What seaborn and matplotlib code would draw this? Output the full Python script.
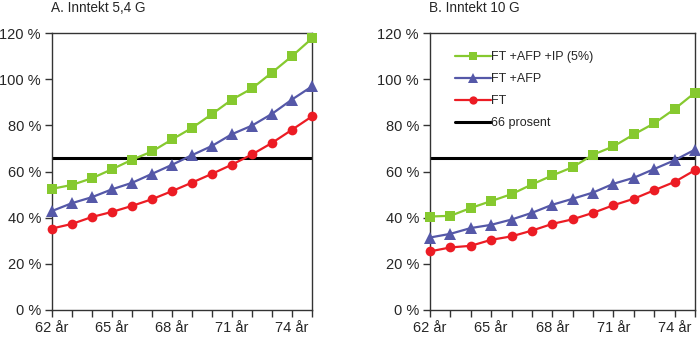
import numpy as np
import pandas as pd
import seaborn as sns
import matplotlib.pyplot as plt

ages = list(range(62, 76))
tick_ages = [62, 65, 68, 71, 74]
tick_labels = ["62 år", "65 år", "68 år", "71 år", "74 år"]
y_ticks = [0, 20, 40, 60, 80, 100, 120]
y_labels = ["0 %", "20 %", "40 %", "60 %", "80 %", "100 %", "120 %"]

series_names = ["FT +AFP +IP (5%)", "FT +AFP", "FT"]
threshold_name = "66 prosent"
threshold = 66

# Panel A: income 5.4 G
a_ft_afp_ip = [52.5, 54.2, 57.1, 61.0, 65.1, 68.7, 73.9, 78.9, 84.9, 91.2, 96.0, 102.9, 110.0, 117.7]
a_ft_afp = [42.9, 46.3, 48.9, 52.3, 55.1, 59.0, 62.9, 67.1, 71.1, 76.2, 79.9, 85.0, 91.2, 96.9]
a_ft = [35.3, 37.3, 40.3, 42.5, 45.1, 48.0, 51.5, 55.2, 59.0, 63.0, 67.4, 72.4, 78.1, 83.9]

# Panel B: income 10 G
b_ft_afp_ip = [40.5, 40.8, 44.2, 47.2, 50.2, 54.4, 58.3, 61.9, 67.3, 70.9, 76.1, 80.9, 87.1, 94.2]
b_ft_afp = [31.4, 33.0, 35.5, 36.9, 39.2, 42.1, 45.6, 48.2, 50.9, 54.7, 57.3, 61.1, 64.9, 69.5]
b_ft = [25.4, 27.1, 27.8, 30.4, 31.9, 34.4, 37.3, 39.3, 42.1, 45.4, 48.2, 51.9, 55.5, 60.6]

titles = ["A. Inntekt 5,4 G", "B. Inntekt 10 G"]

colors = {"FT +AFP +IP (5%)": "#86c92f", "FT +AFP": "#5558a8", "FT": "#ec1c24"}
markers = {"FT +AFP +IP (5%)": "s", "FT +AFP": "^", "FT": "o"}

sns.set_theme(style="white")
plt.rcParams["font.family"] = ["Liberation Sans", "DejaVu Sans"]


def long_frame(values):
    rows = []
    for name, vals in zip(series_names, values):
        for age, v in zip(ages, vals):
            rows.append({"age": age, "value": v, "series": name})
    return pd.DataFrame(rows)


fig = plt.figure(figsize=(7.0, 3.41), dpi=100)
ax_a = fig.add_axes([0.0743, 0.091, 0.3714, 0.812])
ax_b = fig.add_axes([0.6143, 0.091, 0.3786, 0.812])

panels = [(ax_a, [a_ft_afp_ip, a_ft_afp, a_ft]), (ax_b, [b_ft_afp_ip, b_ft_afp, b_ft])]

for i, (ax, vals) in enumerate(panels):
    df = long_frame(vals)
    thr = pd.DataFrame({"age": ages, "value": [threshold] * len(ages)})
    sns.lineplot(data=thr, x="age", y="value", color="black", linewidth=2.2,
                 ax=ax, label=threshold_name, zorder=2)
    for name in reversed(series_names):
        sub = df[df["series"] == name]
        sns.lineplot(data=sub, x="age", y="value", color=colors[name],
                     marker=markers[name], markersize=7 if name != "FT +AFP" else 8,
                     markeredgewidth=0, linewidth=1.6, ax=ax, label=name,
                     clip_on=False, zorder=3)
    ax.set_xlim(62, 75)
    ax.set_ylim(0, 120)
    ax.set_xticks(tick_ages)
    ax.set_xticklabels(tick_labels)
    ax.set_xticks(ages, minor=True)
    ax.set_yticks(y_ticks)
    ax.set_yticklabels(y_labels)
    ax.set_xlabel("")
    ax.set_ylabel("")
    ax.tick_params(axis="both", which="both", direction="out", length=5,
                   width=1, color="#333333", labelsize=10.5, pad=3)
    ax.tick_params(axis="x", which="both", bottom=True)
    ax.tick_params(axis="y", which="both", left=True)
    for sp in ax.spines.values():
        sp.set_color("#333333")
        sp.set_linewidth(1)
    ax.set_title(titles[i], loc="left", fontsize=9.8, x=-0.005, y=1.045)
    if i == 0:
        ax.get_legend().remove()
    else:
        handles, labels = ax.get_legend_handles_labels()
        order = [labels.index(n) for n in series_names + [threshold_name]]
        ax.legend([handles[k] for k in order], [labels[k] for k in order],
                  loc="upper left", bbox_to_anchor=(0.05, 0.975), frameon=False,
                  fontsize=9, handlelength=2.9, handletextpad=0.05,
                  labelspacing=0.8, markerscale=0.85)

fig.savefig("out.png", dpi=100)
